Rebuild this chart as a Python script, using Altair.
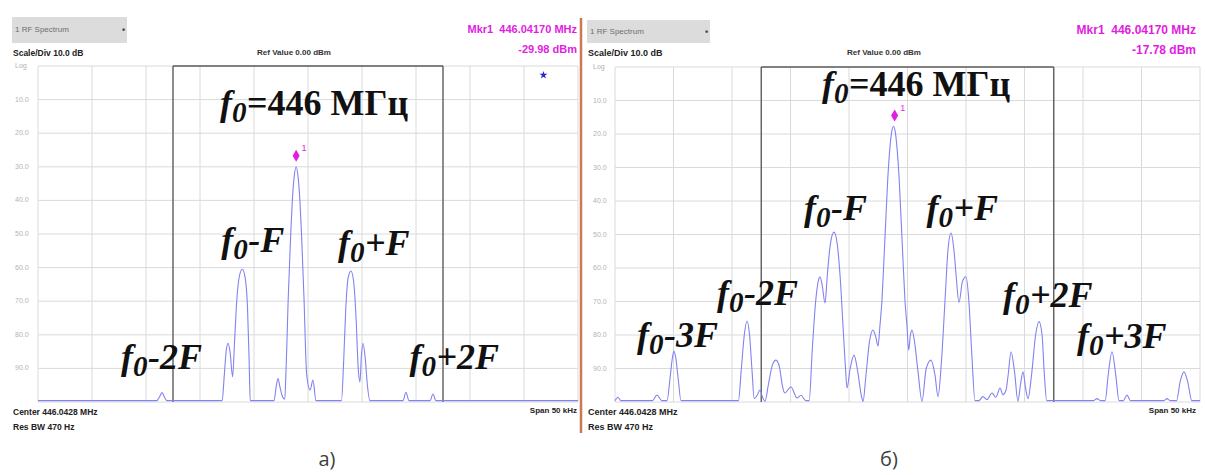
import altair as alt
import pandas as pd

# ---------------- data ----------------
# frequency axis: offset from centre 446.0428 MHz in kHz (span 50 kHz), level in dBm
x_domain = [-25, 25]
y_domain = [-100, 0]
x_ticks = [-25, -20, -15, -10, -5, 0, 5, 10, 15, 20, 25]
y_ticks = [0, -10, -20, -30, -40, -50, -60, -70, -80, -90, -100]
y_tick_labels = ["Log", "10.0", "20.0", "30.0", "40.0", "50.0", "60.0", "70.0", "80.0", "90.0"]
box_edges = [-12.5, 12.5]

# trace a)
freq_a = [-25.0, -14.0, -13.75, -13.52, -13.3, -13.05, -7.95, -7.75, -7.58, -7.41, -7.22, -6.98,
          -6.8, -6.6, -6.35, -6.08, -5.82, -5.6, -5.45, -5.35, -3.15, -2.95, -2.78, -2.6, -2.35,
          -2.15, -2.05, -1.95, -1.84, -1.72, -1.6, -1.45, -1.28, -1.1, -0.92, -0.75, -0.6, -0.48,
          -0.36, -0.25, -0.12, 0.19, 0.46, 0.74, 3.1, 3.3, 3.5, 3.72, 3.98, 4.22, 4.45, 4.65, 4.81,
          4.95, 5.09, 5.3, 5.5, 5.74, 8.8, 9.07, 9.35, 11.3, 11.57, 11.85, 25.0]
level_a = [-99.6, -99.6, -98.5, -97.2, -98.5, -99.6, -99.6, -92, -85, -82.5, -85, -92.5,
           -82, -70, -62.5, -60.5, -63, -72, -88, -99.6, -99.6, -95.5, -93, -95.5, -98.5,
           -99.2, -92, -82, -70, -60, -50, -40, -33, -29.98, -33, -40, -50, -60,
           -70, -82, -92, -96.4, -93.5, -99.6, -99.6, -88, -72, -63, -61, -64, -75, -90, -94,
           -86, -82.5, -87, -95, -99.6, -99.6, -97.1, -99.6, -99.6, -97.6, -99.6, -99.6]

# trace б)
freq_b = [-25.0, -24.75, -24.5, -21.8, -21.41, -21.0, -20.55, -20.3, -20.1, -19.96, -19.8, -19.6,
          -19.36, -14.45, -14.2, -13.95, -13.72, -13.5, -13.3, -13.1, -12.85, -12.61, -12.4, -12.18,
          -11.9, -11.55, -11.24, -10.95, -10.7, -10.5, -9.96, -9.44, -9.10, -8.7, -8.4, -8.15, -7.85,
          -7.6, -7.48, -7.3, -7.05, -6.85, -6.6, -6.28, -6.0, -5.75, -5.5, -5.3, -5.17, -4.9, -4.57,
          -4.25, -3.95, -3.80, -3.55, -3.25, -2.95, -2.72, -2.52, -2.35, -2.18, -2.02, -1.86, -1.68,
          -1.5, -1.35, -1.2, -1.05, -0.9, -0.72, -0.54, -0.38, -0.22, -0.05, 0.1, 0.25, 0.38, 0.6,
          0.9, 1.24, 1.6, 2.01, 2.35, 2.61, 2.9, 3.21, 3.45, 3.72, 3.98, 4.15, 4.4, 4.7, 5.0, 5.25,
          5.5, 5.77, 6.1, 6.45, 6.8, 7.22, 7.55, 7.91, 8.15, 8.42, 8.6, 8.85, 9.15, 9.44, 9.65, 9.87,
          10.1, 10.3, 10.6, 10.95, 11.24, 11.5, 11.7, 11.9, 15.9, 16.2, 16.5, 16.9, 17.15, 17.48,
          17.8, 18.08, 18.45, 18.76, 19.05, 21.9, 22.18, 22.45, 23.0, 23.3, 23.63, 23.95, 24.3, 25.0]
level_b = [-99.6, -98.6, -99.6, -99.6, -97.9, -99.6, -99.6, -93, -87, -84.8, -87, -93,
           -99.6, -99.6, -90, -80, -75.8, -80, -90, -99, -98, -96.4, -98.5, -99.8,
           -95, -89, -87.5, -89.5, -95, -97.3, -95.5, -98.8, -98, -99.6, -99.6, -85, -70,
           -63.5, -62.6, -65, -70.4, -62, -53, -49.3, -53, -63, -78, -90, -95.8, -90, -86,
           -91, -98, -99.8, -92, -82, -78.5, -80.5, -83.3, -77, -69.5, -58, -46, -33,
           -24, -19.3, -17.78, -19.3, -24, -33, -46, -58, -69.5, -77, -84.5, -80, -78.5, -82,
           -91, -99.8, -90, -87.5, -92, -98.4, -88, -69.5, -55, -49.6, -55, -62, -70.3, -64, -62.6, -70,
           -86, -99.6, -99.6, -98.4, -99.3, -97.3, -98.6, -95.8, -97.8, -96.5, -92, -85, -91, -99.8, -95, -91,
           -96, -99, -92, -80, -76, -80, -92, -99.6, -99.6, -99.0, -99.6, -99.6, -92, -85,
           -92, -99.6, -99.6, -97.9, -99.6, -99.6, -99.0, -99.6, -99.6, -94, -91, -94, -99.6, -99.6]

marker_khz = -1.1          # 446.04170 MHz
marker_level_a = -29.98
marker_level_b = -17.78
star_khz_a = [21.8]
star_dbm_a = [-2.7]

labels_a_rest = ["=446 МГц", "-F", "+F", "-2F", "+2F"]
labels_a_kind = ["title", "side", "side", "side", "side"]
labels_a_khz = [-8.15, -8.03, 2.77, -17.31, 9.4]
labels_a_dbm = [-14.6, -55.4, -56.2, -90.2, -90.2]

labels_b_rest = ["=446 МГц", "-F", "+F", "-2F", "-3F", "+2F", "+3F"]
labels_b_kind = ["title", "side", "side", "side", "side", "side", "side"]
labels_b_khz = [-7.3, -8.85, 1.63, -16.28, -23.12, 8.16, 14.49]
labels_b_dbm = [-8.66, -45.7, -45.7, -71.0, -83.6, -71.6, -83.9]

header_a = {"mkr": "Mkr1\u00a0\u00a0446.04170 MHz", "lvl": "-29.98 dBm", "cap": "а)"}
header_b = {"mkr": "Mkr1\u00a0\u00a0446.04170 MHz", "lvl": "-17.78 dBm", "cap": "б)"}
common_texts = ["1 RF Spectrum", "Scale/Div 10.0 dB", "Ref Value 0.00 dBm",
                "Center 446.0428 MHz", "Res BW 470 Hz", "Span 50 kHz"]

# ---------------- styling ----------------
TRACE = "#8282f0"
GRID = "#dadada"
BOX = "#5c5c5c"
MAGENTA = "#e21de2"
SERIF = "Liberation Serif"
SANS = "Liberation Sans"
BIG = 36

one = pd.DataFrame({"k": [0]})


def panel(freq, level, lab_khz, lab_dbm, lab_rest, lab_kind, mk_level, xr, yr, ylab_x, star=None):
    xs = alt.Scale(domain=x_domain, range=xr, nice=False, zero=False)
    ys = alt.Scale(domain=y_domain, range=yr, nice=False, zero=False)

    def X(f):
        return alt.X(f, type="quantitative", scale=xs, axis=None)

    def Y(f):
        return alt.Y(f, type="quantitative", scale=ys, axis=None)

    vgrid = pd.DataFrame({"f": x_ticks, "top": y_domain[1], "bot": y_domain[0]})
    hgrid = pd.DataFrame({"d": y_ticks, "lo": x_domain[0], "hi": x_domain[1]})
    box_v = pd.DataFrame({"f": box_edges, "top": y_domain[1], "bot": y_domain[0]})
    box_h = pd.DataFrame({"lo": [box_edges[0]], "hi": [box_edges[1]], "d": [y_domain[1]]})
    ylab = pd.DataFrame({"d": y_ticks[:len(y_tick_labels)], "t": y_tick_labels})
    trace = pd.DataFrame({"f": freq, "l": level})
    mk = pd.DataFrame({"f": [marker_khz], "l": [mk_level]})
    labs = pd.DataFrame({"f": lab_khz, "l": lab_dbm, "rest": lab_rest, "kind": lab_kind})

    layers = [
        alt.Chart(vgrid).mark_rule(color=GRID, strokeWidth=1).encode(x=X("f"), y=Y("top"), y2="bot"),
        alt.Chart(hgrid).mark_rule(color=GRID, strokeWidth=1).encode(y=Y("d"), x=X("lo"), x2="hi"),
        alt.Chart(box_v).mark_rule(color=BOX, strokeWidth=1.4).encode(x=X("f"), y=Y("top"), y2="bot"),
        alt.Chart(box_h).mark_rule(color=BOX, strokeWidth=1.6).encode(y=Y("d"), x=X("lo"), x2="hi"),
        alt.Chart(ylab).mark_text(align="left", baseline="middle", fontSize=7, color="#b3b3b3",
                                  font=SANS).encode(x=alt.value(ylab_x), y=Y("d"), text="t:N"),
        alt.Chart(trace).mark_line(color=TRACE, strokeWidth=1.1, interpolate="monotone").encode(
            x=X("f"), y=Y("l")),
        alt.Chart(mk).mark_point(shape="M0,-3.4L0.7,-2.2L0,-1.0L-0.7,-2.2Z", size=100, filled=True,
                                 color=MAGENTA, opacity=1).encode(x=X("f"), y=Y("l")),
        alt.Chart(mk).mark_text(text="1", dx=8, dy=-19, fontSize=9, color=MAGENTA, font=SANS).encode(
            x=X("f"), y=Y("l")),
        alt.Chart(labs).mark_text(text="f", align="left", baseline="alphabetic", font=SERIF,
                                  fontSize=BIG, fontStyle="italic", fontWeight="bold",
                                  color="#111111").encode(x=X("f"), y=Y("l")),
        alt.Chart(labs).mark_text(text="0", align="left", baseline="alphabetic", font=SERIF,
                                  fontSize=29, fontStyle="italic", fontWeight="bold", dx=12, dy=7,
                                  color="#111111").encode(x=X("f"), y=Y("l")),
        alt.Chart(labs).transform_filter(alt.datum.kind == "side").mark_text(
            align="left", baseline="alphabetic", font=SERIF, fontSize=BIG, fontStyle="italic",
            fontWeight="bold", dx=27, color="#111111").encode(x=X("f"), y=Y("l"), text="rest:N"),
        alt.Chart(labs).transform_filter(alt.datum.kind == "title").mark_text(
            align="left", baseline="alphabetic", font=SERIF, fontSize=BIG,
            fontWeight="bold", dx=27, color="#111111").encode(x=X("f"), y=Y("l"), text="rest:N"),
    ]
    if star is not None:
        sdf = pd.DataFrame({"f": star[0], "l": star[1]})
        layers.append(alt.Chart(sdf).mark_point(
            shape="M0,-1L0.235,-0.324L0.951,-0.309L0.38,0.124L0.588,0.809L0,0.4L-0.588,0.809L-0.38,0.124L-0.951,-0.309L-0.235,-0.324Z",
            size=70, filled=True, color="#2a2ad0", opacity=1).encode(x=X("f"), y=Y("l")))
    return alt.layer(*layers)


def txt(s, x, y, size=8.5, weight="bold", color="#222222", align="left", font=SANS):
    return alt.Chart(one).mark_text(text=s, align=align, baseline="middle", fontSize=size,
                                    fontWeight=weight, color=color, font=font).encode(
        x=alt.value(x), y=alt.value(y))


def header(h, x0, x1, rect, ref_x, cap_x, mk_size, sd_size):
    return [
        alt.Chart(one).mark_rect(color="#dcdcdc").encode(
            x=alt.value(rect[0]), x2=alt.value(rect[1]), y=alt.value(rect[2]), y2=alt.value(rect[3])),
        txt(common_texts[0], rect[0] + 3, (rect[2] + rect[3]) / 2, size=8, weight="normal", color="#6e6e6e"),
        txt("•", rect[1] - 5, (rect[2] + rect[3]) / 2, size=9, weight="bold", color="#444444"),
        txt(common_texts[1], x0, 53, size=sd_size),
        txt(common_texts[2], ref_x, 53, size=8, align="center", color="#333333"),
        txt(h["mkr"], x1, 30, size=mk_size, weight="bold", color=MAGENTA, align="right"),
        txt(h["lvl"], x1, 50, size=mk_size, weight="bold", color=MAGENTA, align="right"),
        txt(common_texts[3], x0, 412, size=sd_size),
        txt(common_texts[4], x0, 427, size=sd_size),
        txt(common_texts[5], x1, 411, size=8, align="right"),
        txt(h["cap"], cap_x, 460, size=20, weight="normal", color="#404040", align="center", font="Open Sans"),
    ]


panel_a = panel(freq_a, level_a, labels_a_khz, labels_a_dbm, labels_a_rest, labels_a_kind,
                marker_level_a, [38, 578], [402, 66], 15, star=(star_khz_a, star_dbm_a))
panel_b = panel(freq_b, level_b, labels_b_khz, labels_b_dbm, labels_b_rest, labels_b_kind,
                marker_level_b, [615, 1200], [402, 67], 593)

overlay = alt.layer(
    *header(header_a, 13, 577, (12, 127, 17, 43), 294, 327, 11, 8.5),
    *header(header_b, 588, 1196, (587, 710, 20, 43), 884, 889, 12, 9),
    alt.Chart(one).mark_rule(color="#c97a52", strokeWidth=2.5).encode(
        x=alt.value(581), y=alt.value(18), y2=alt.value(433)),
)

chart = alt.layer(panel_a, panel_b, overlay).resolve_scale(
    x="independent", y="independent"
).properties(
    width=1205, height=475, padding=0, background="white",
    autosize=alt.AutoSizeParams(type="none"),
).configure_view(strokeWidth=0)

chart.save("out.html", embed_options={"renderer": "svg", "actions": False})
